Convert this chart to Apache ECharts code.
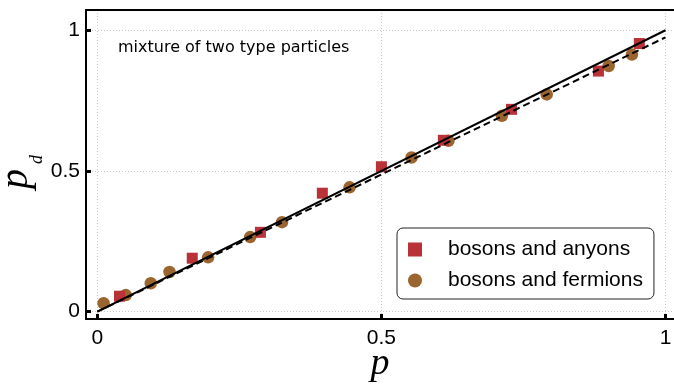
<!DOCTYPE html>
<html>
<head>
<meta charset="utf-8">
<script src="https://cdn.jsdelivr.net/npm/echarts@6/dist/echarts.min.js"></script>
<style>
  html, body { margin: 0; padding: 0; background: #fff; }
  #main { width: 674px; height: 385px; }
</style>
</head>
<body>
<div id="main"></div>
<script>
// bosons and anyons (squares)
var anyonP = [0.039, 0.167, 0.287, 0.396, 0.500, 0.609, 0.729, 0.882, 0.954];
var anyonPd = [0.055, 0.190, 0.282, 0.421, 0.515, 0.609, 0.719, 0.855, 0.953];
// bosons and fermions (circles)
var fermionP = [0.011, 0.050, 0.094, 0.127, 0.195, 0.269, 0.325, 0.444, 0.553, 0.618, 0.712, 0.791, 0.900, 0.941];
var fermionPd = [0.030, 0.059, 0.101, 0.141, 0.193, 0.265, 0.318, 0.442, 0.548, 0.607, 0.696, 0.772, 0.873, 0.914];
// reference lines
var solidLine = [[0, 0], [1, 1]];
var dashedLine = [[0, 0], [1, 0.975]];
var tickValues = [0, 0.5, 1];
var tickLabels = {0: '0', 0.5: '0.5', 1: '1'};

function pairs(xs, ys) {
    return xs.map(function (x, i) { return [x, ys[i]]; });
}

var myChart = echarts.init(document.getElementById('main'));
var gridLine = { show: true, lineStyle: { color: '#c8c8c8', type: [1, 2], width: 1 } };
var tickStyle = { inside: true, length: 5, customValues: tickValues, lineStyle: { color: '#000', width: 3 } };
var labelStyle = {
    customValues: tickValues,
    fontFamily: 'Liberation Sans', fontSize: 21, color: '#000',
    formatter: function (v) { return tickLabels[v]; }
};

option = {
    animation: false,
    grid: { left: 86, top: 10, right: 0, bottom: 66, outerBoundsMode: 'none' },
    graphic: [{
        type: 'text', left: 118, top: 40,
        style: { text: 'mixture of two type particles', font: '16px "DejaVu Sans"', fill: '#000' }
    }, {
        // y axis title p_d, rotated
        type: 'group', x: 16, y: 189, rotation: Math.PI / 2,
        children: [{
            type: 'text', x: 0, y: 0,
            style: { text: 'p', font: 'italic 40px "Liberation Serif"', fill: '#000', align: 'left', verticalAlign: 'middle' }
        }, {
            type: 'text', x: 25, y: 21,
            style: { text: 'd', font: 'italic 18px "Liberation Serif"', fill: '#000', align: 'left', verticalAlign: 'middle' }
        }]
    }],
    legend: {
        orient: 'vertical',
        left: 397, top: 228,
        padding: [11, 11, 8, 11],
        itemWidth: 14, itemHeight: 14, itemGap: 10,
        backgroundColor: '#fff',
        borderColor: '#222', borderWidth: 1, borderRadius: 6,
        textStyle: { fontFamily: 'Liberation Sans', fontSize: 21, color: '#000', padding: [0, 0, 0, 21], lineHeight: 21 },
        data: [
            { name: 'bosons and anyons', icon: 'rect', itemStyle: { color: '#b83238' } },
            { name: 'bosons and fermions', icon: 'circle', itemStyle: { color: '#9b6530' } }
        ]
    },
    xAxis: [{
        type: 'value', min: -0.02, max: 1.015,
        axisLine: { onZero: false, lineStyle: { color: '#000', width: 2 } },
        axisTick: tickStyle,
        axisLabel: Object.assign({ margin: 9 }, labelStyle),
        splitLine: gridLine,
        name: 'p', nameLocation: 'middle', nameGap: 26, nameMoveOverlap: false,
        nameTextStyle: { fontFamily: 'Liberation Serif', fontStyle: 'italic', fontSize: 38, color: '#000' }
    }, {
        type: 'value', position: 'top', min: -0.02, max: 1.015,
        axisLine: { show: true, onZero: false, lineStyle: { color: '#000', width: 2 } },
        axisTick: { show: false }, axisLabel: { show: false }, splitLine: { show: false }
    }],
    yAxis: {
        type: 'value', min: -0.026, max: 1.072,
        axisLine: { show: true, onZero: false, lineStyle: { color: '#000', width: 2 } },
        axisTick: tickStyle,
        axisLabel: Object.assign({ margin: 6 }, labelStyle),
        splitLine: gridLine
    },
    series: [
        {
            type: 'line', data: solidLine, symbol: 'none', silent: true,
            lineStyle: { color: '#000', width: 2 }
        },
        {
            type: 'line', data: dashedLine, symbol: 'none', silent: true,
            lineStyle: { color: '#000', width: 2, type: [7, 4] }
        },
        {
            name: 'bosons and fermions', type: 'scatter', symbol: 'circle', symbolSize: 12.5,
            data: pairs(fermionP, fermionPd), itemStyle: { color: '#9b6530', opacity: 1 }
        },
        {
            name: 'bosons and anyons', type: 'scatter', symbol: 'rect', symbolSize: 11,
            data: pairs(anyonP, anyonPd), itemStyle: { color: '#b83238', opacity: 1 }
        }
    ]
};
myChart.setOption(option);
</script>
</body>
</html>
